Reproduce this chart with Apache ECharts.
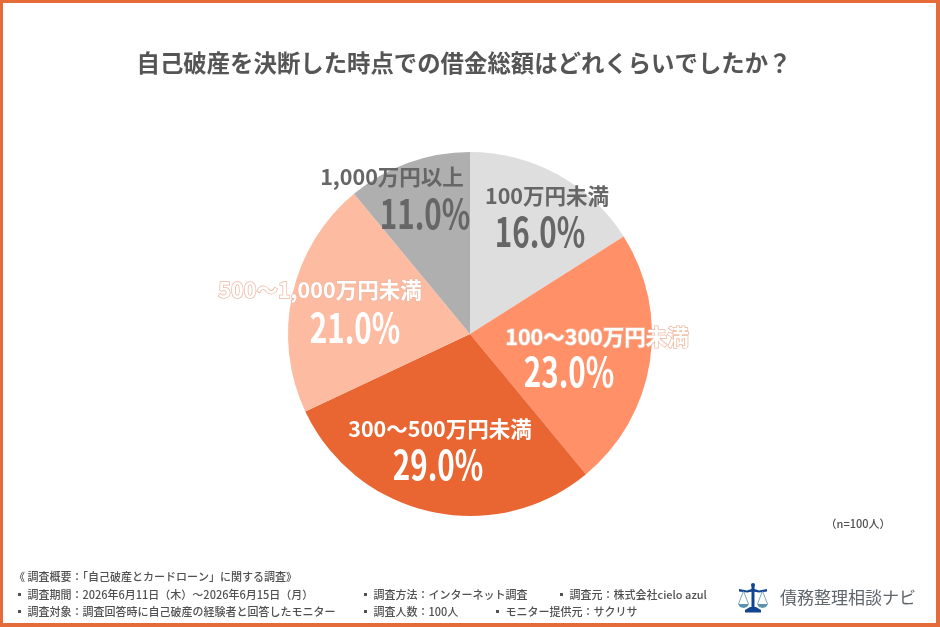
<!DOCTYPE html>
<html lang="ja">
<head>
<meta charset="utf-8">
<title>借金総額</title>
<style>
  html, body { margin: 0; padding: 0; background: #fff; }
  #chart { width: 940px; height: 627px; }
</style>
<script src="https://cdn.jsdelivr.net/npm/echarts@6/dist/echarts.min.js"></script>
</head>
<body>
<div id="chart"></div>
<script>
const FONT = '"Noto Sans CJK JP", "Noto Sans", sans-serif';

const titleText = '自己破産を決断した時点での借金総額はどれくらいでしたか？';
const categories = ['100万円未満', '100～300万円未満', '300～500万円未満', '500～1,000万円未満', '1,000万円以上'];
const shares = [16.0, 23.0, 29.0, 21.0, 11.0];
const sliceColors = ['#dedede', '#ff9068', '#e96633', '#fdbba1', '#afafaf'];
const labelColors = ['#666666', '#ffffff', '#ffffff', '#ffffff', '#666666'];
const labelOutlines = ['transparent', '#eeb9a2', 'transparent', '#eeb9a2', 'transparent'];
const nameCentres = [[547, 196], [597, 337], [440, 429], [320, 290], [392, 177]];
const percentCentres = [[540, 232], [569, 372], [438, 465], [355, 328], [425, 214]];
const sampleNote = '（n=100人）';
const surveyLines = [
  ['《 調査概要：「自己破産とカードローン」に関する調査》', 14, 577],
  ['▪ 調査期間：2026年6月11日（木）～2026年6月15日（月）', 14, 595],
  ['▪ 調査方法：インターネット調査', 360, 595],
  ['▪ 調査元：株式会社cielo azul', 556, 595],
  ['▪ 調査対象：調査回答時に自己破産の経験者と回答したモニター', 14, 612],
  ['▪ 調査人数：100人', 360, 612],
  ['▪ モニター提供元：サクリサ', 492, 612]
];
const brandName = '債務整理相談ナビ';

const chart = echarts.init(document.getElementById('chart'), null, { renderer: 'canvas' });

const footnotes = surveyLines.map(([text, x, y]) => ({
  type: 'text',
  style: { text, x, y, font: `500 11px ${FONT}`, fill: '#505050', textVerticalAlign: 'middle' }
}));

// Percent figures are set in a horizontally condensed face above the slices
const percentTexts = shares.map((v, i) => ({
  type: 'text',
  z: 10,
  x: percentCentres[i][0],
  y: percentCentres[i][1],
  scaleX: 0.74,
  style: { text: `${v.toFixed(1)}%`, x: 0, y: 0, font: `700 40px ${FONT}`, fill: labelColors[i], textAlign: 'center', textVerticalAlign: 'middle' }
}));

const NAVY = '#12458f';
const TEAL = '#5b93ad';

// Balance-scale emblem next to the brand name
const emblem = {
  type: 'group',
  children: [
    { type: 'rect', shape: { x: 751.5, y: 585, width: 3, height: 23 }, style: { fill: NAVY } },
    { type: 'circle', shape: { cx: 753, cy: 585, r: 2 }, style: { fill: NAVY } },
    { type: 'polygon', shape: { points: [[739, 589], [747, 590.5], [753, 588.5], [759, 590.5], [767, 589], [767, 591.5], [759, 592.5], [753, 591.5], [747, 592.5], [739, 591.5]] }, style: { fill: NAVY } },
    { type: 'polygon', shape: { points: [[745, 610], [750, 607], [756, 607], [761, 610], [761, 612.5], [745, 612.5]] }, style: { fill: NAVY } },
    { type: 'line', shape: { x1: 743.5, y1: 591, x2: 738.5, y2: 604 }, style: { stroke: TEAL, lineWidth: 0.8 } },
    { type: 'line', shape: { x1: 743.5, y1: 591, x2: 748.5, y2: 604 }, style: { stroke: TEAL, lineWidth: 0.8 } },
    { type: 'line', shape: { x1: 762.5, y1: 591, x2: 757.5, y2: 604 }, style: { stroke: TEAL, lineWidth: 0.8 } },
    { type: 'line', shape: { x1: 762.5, y1: 591, x2: 767.5, y2: 604 }, style: { stroke: TEAL, lineWidth: 0.8 } },
    { type: 'polygon', shape: { points: [[738, 604], [749, 604], [747, 607], [743.5, 608], [740, 607]] }, style: { fill: TEAL } },
    { type: 'polygon', shape: { points: [[757, 604], [768, 604], [766, 607], [762.5, 608], [759, 607]] }, style: { fill: TEAL } }
  ]
};

chart.setOption({
  animation: false,
  backgroundColor: '#ffffff',
  graphic: [
    // Page frame
    { type: 'rect', shape: { x: 1, y: 1, width: 937, height: 624 }, style: { fill: 'none', stroke: '#e56b3a', lineWidth: 4 } },
    { type: 'text', style: { text: titleText, x: 464, y: 63, font: `700 23.4px ${FONT}`, fill: '#555555', textAlign: 'center', textVerticalAlign: 'middle' } },
    { type: 'text', style: { text: sampleNote, x: 858, y: 524, font: `500 11px ${FONT}`, fill: '#505050', textAlign: 'center', textVerticalAlign: 'middle' } },
    ...footnotes,
    ...percentTexts,
    emblem,
    { type: 'text', style: { text: brandName, x: 780, y: 598, font: `400 17px ${FONT}`, fill: '#5f666c', textVerticalAlign: 'middle' } }
  ],
  series: [{
    type: 'pie',
    center: [470, 334],
    radius: [0, 182],
    startAngle: 90,
    clockwise: true,
    silent: true,
    data: categories.map((name, i) => ({
      name,
      value: shares[i],
      itemStyle: { color: sliceColors[i] },
      label: {
        color: labelColors[i],
        textBorderColor: labelOutlines[i],
        textBorderWidth: labelOutlines[i] === 'transparent' ? 0 : 1.5
      }
    })),
    label: {
      show: true,
      position: 'inside',
      fontFamily: FONT,
      fontWeight: 700,
      fontSize: 21.5,
      formatter: '{b}'
    },
    labelLine: { show: false },
    labelLayout: p => ({ x: nameCentres[p.dataIndex][0], y: nameCentres[p.dataIndex][1], align: 'center', verticalAlign: 'middle' })
  }]
});
</script>
</body>
</html>
